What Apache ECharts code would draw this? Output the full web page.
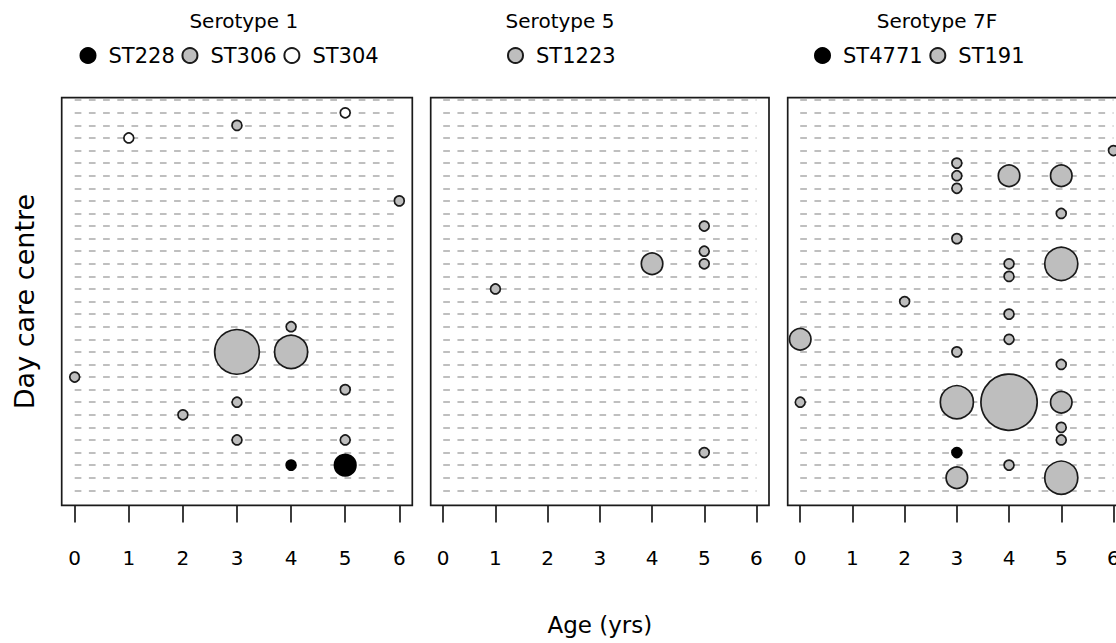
<!DOCTYPE html>
<html><head><meta charset="utf-8">
<script src="https://cdn.jsdelivr.net/npm/echarts@6/dist/echarts.min.js"></script>
<style>html,body{margin:0;padding:0;background:#fff}#c{width:1116px;height:643px}</style>
</head><body><div id="c"></div>
<script>
// x ticks (age in years)
const ages = [0, 1, 2, 3, 4, 5, 6];
// day care centre rows (dashed guide lines)
const centres = [1,2,3,4,5,6,7,8,9,10,11,12,13,14,15,16,17,18,19,20,21,22,23,24,25,26,27,28,29,30,31,32];
const panelTitles = ['Serotype 1', 'Serotype 5', 'Serotype 7F'];
const xTitle = 'Age (yrs)';
const yTitle = 'Day care centre';

// points: [age, centre, number of isolates]
const st228 = [[4,3,1],[5,3,2]];
const st306 = [[3,30,1],[6,24,1],[4,14,1],[3,12,4],[4,12,3],[0,10,1],[5,9,1],[3,8,1],[2,7,1],[3,5,1],[5,5,1]];
const st304 = [[1,29,1],[5,31,1]];
const st1223 = [[1,17,1],[4,19,2],[5,19,1],[5,20,1],[5,22,1],[5,4,1]];
const st4771 = [[3,4,1]];
const st191 = [[6,28,1],[3,27,1],[3,26,1],[3,25,1],[4,26,2],[5,26,2],[5,23,1],[3,21,1],[5,19,3],[4,19,1],[4,18,1],[2,16,1],[4,15,1],[0,13,2],[4,13,1],[3,12,1],[5,11,1],[0,8,1],[3,8,3],[4,8,5],[5,8,2],[5,6,1],[5,5,1],[4,3,1],[3,2,2],[5,2,3]];

const FONT = '"DejaVu Sans", sans-serif';
const INK = '#1a1a1a';
const GREY = '#bebebe';

const gridBase = {show: true, borderColor: INK, borderWidth: 1.7, backgroundColor: 'transparent', outerBoundsMode: 'none', containLabel: false};
const grids = [
  Object.assign({left: 61.7, top: 97.7, width: 350.6, height: 407.7}, gridBase),
  Object.assign({left: 430.7, top: 97.7, width: 338.3, height: 407.7}, gridBase),
  Object.assign({left: 787.7, top: 97.7, width: 338.3, height: 407.7}, gridBase)
];

const xAxes = grids.map((g, i) => ({
  type: 'value', gridIndex: i, min: -0.24, max: 6.24,
  axisLine: {show: false, onZero: false},
  splitLine: {show: false},
  axisTick: {show: true, length: 17, customValues: ages, lineStyle: {color: INK, width: 1.7}},
  axisLabel: {show: true, customValues: ages, margin: 43, fontSize: 20, color: '#000', fontFamily: FONT},
  name: i === 1 ? xTitle : '', nameLocation: 'middle', nameGap: 108,
  nameTextStyle: {fontSize: 23, color: '#000', fontFamily: FONT}
}));
const yAxes = grids.map((g, i) => ({
  type: 'value', gridIndex: i, min: -0.2, max: 32.2,
  axisLine: {show: false}, axisTick: {show: false}, axisLabel: {show: false}, splitLine: {show: false},
  name: i === 0 ? yTitle : '', nameLocation: 'middle', nameRotate: 90, nameGap: 24,
  nameTextStyle: {fontSize: 27, color: '#000', fontFamily: FONT}
}));

function rowLines(i) {
  return {
    type: 'lines', coordinateSystem: 'cartesian2d', xAxisIndex: i, yAxisIndex: i,
    silent: true, z: 1, animation: false,
    lineStyle: {color: '#aaaaaa', width: 1.6, type: [6.7, 7.5], opacity: 1},
    data: centres.map(k => ({coords: [[ages[0], k], [ages[ages.length - 1], k]]}))
  };
}
function pts(name, data, i, fill) {
  return {
    type: 'scatter', name: name, data: data, xAxisIndex: i, yAxisIndex: i,
    z: 3, animation: false, clip: false,
    symbol: 'circle',
    symbolSize: d => 11.6 * d[2] - 1.7,
    itemStyle: {color: fill, borderColor: fill === '#000000' ? '#000000' : INK, borderWidth: 1.7, opacity: 1},
    emphasis: {disabled: true}
  };
}

const legendBase = {
  orient: 'horizontal', top: 45, padding: 0, itemWidth: 31, itemHeight: 15, itemGap: 6.7,
  selectedMode: false,
  textStyle: {fontSize: 21, color: '#000', fontFamily: FONT}
};

const titleXs = [243.8, 560, 937];
const chart = echarts.init(document.getElementById('c'), null, {renderer: 'svg', width: 1116, height: 643});
chart.setOption({
  backgroundColor: '#ffffff',
  animation: false,
  textStyle: {fontFamily: FONT},
  grid: grids,
  xAxis: xAxes,
  yAxis: yAxes,
  legend: [
    Object.assign({}, legendBase, {left: 79.5, data: ['ST228', 'ST306', 'ST304']}),
    Object.assign({}, legendBase, {left: 507, data: ['ST1223']}),
    Object.assign({}, legendBase, {left: 814, data: ['ST4771', 'ST191']})
  ],
  graphic: panelTitles.map((t, i) => ({
    type: 'text', x: titleXs[i], y: 21, silent: true,
    style: {text: t, align: 'center', verticalAlign: 'middle', fontSize: 20, fontFamily: FONT, fill: '#000'}
  })),
  series: [
    rowLines(0), rowLines(1), rowLines(2),
    pts('ST228', st228, 0, '#000000'),
    pts('ST306', st306, 0, GREY),
    pts('ST304', st304, 0, '#ffffff'),
    pts('ST1223', st1223, 1, GREY),
    pts('ST4771', st4771, 2, '#000000'),
    pts('ST191', st191, 2, GREY)
  ]
});
</script>
</body></html>
